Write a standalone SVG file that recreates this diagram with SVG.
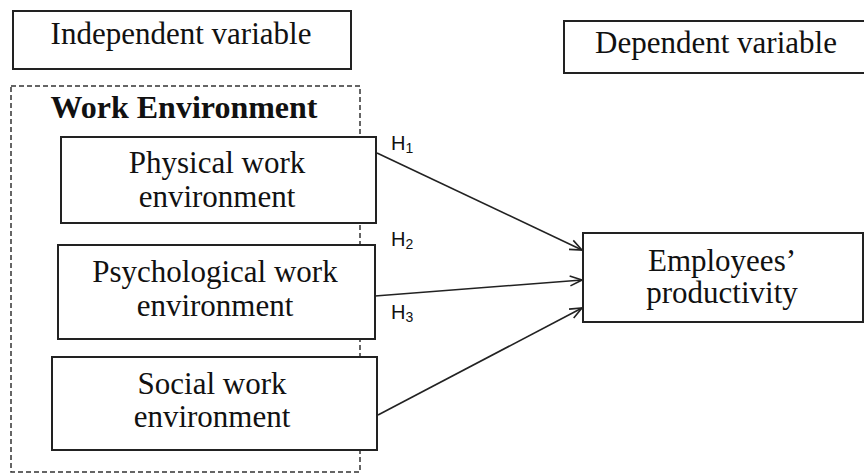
<svg xmlns="http://www.w3.org/2000/svg" width="864" height="473" viewBox="0 0 864 473">
<defs>
<style>
.box{fill:#fff;stroke:#222;stroke-width:2}
.t{font-family:"Liberation Serif",Tinos,"Times New Roman","DejaVu Serif","Noto Serif",serif;font-size:31px;fill:#111;text-anchor:middle}
.b{font-weight:bold;font-size:32px}
.h{font-family:"Liberation Sans",Arial,sans-serif;font-size:20px;fill:#111}
.sub{font-size:14px}
.c{stroke:#222;stroke-width:1.6;fill:none;marker-end:url(#arr)}
</style>
<marker id="arr" viewBox="0 0 14 12" refX="13" refY="6" markerWidth="14" markerHeight="12" markerUnits="userSpaceOnUse" orient="auto">
<path d="M1,1 L13,6 L1,11" fill="none" stroke="#222" stroke-width="1.6"/>
</marker>
</defs>
<rect width="864" height="473" fill="#fff"/>
<g id="independent-label">
<rect class="box" x="13" y="11" width="338" height="58"/>
<text class="t" x="181" y="44">Independent variable</text>
</g>
<g id="dependent-label">
<rect class="box" x="564" y="21" width="305" height="52"/>
<text class="t" x="716" y="53">Dependent variable</text>
</g>
<g id="work-environment">
<rect x="11" y="86" width="349" height="386" fill="none" stroke="#333" stroke-width="1.5" stroke-dasharray="5,3"/>
<text class="t b" x="184" y="118">Work Environment</text>
</g>
<g id="physical">
<rect class="box" x="61" y="137" width="315" height="86"/>
<text class="t" x="217" y="173">Physical work</text>
<text class="t" x="217" y="207">environment</text>
</g>
<g id="psychological">
<rect class="box" x="58" y="245" width="317" height="94"/>
<text class="t" x="215" y="282">Psychological work</text>
<text class="t" x="215" y="316">environment</text>
</g>
<g id="social">
<rect class="box" x="52" y="357" width="325" height="93"/>
<text class="t" x="212" y="394">Social work</text>
<text class="t" x="212" y="427">environment</text>
</g>
<g id="productivity">
<rect class="box" x="583" y="233" width="280" height="89"/>
<text class="t" x="722" y="271">Employees’</text>
<text class="t" x="722" y="303">productivity</text>
</g>
<g id="connectors">
<line class="c" x1="377" y1="153" x2="582" y2="250"/>
<line class="c" x1="375" y1="296" x2="582" y2="280"/>
<line class="c" x1="378" y1="415" x2="582" y2="308"/>
<text class="h" x="391" y="150">H<tspan class="sub" dy="3">1</tspan></text>
<text class="h" x="391" y="246">H<tspan class="sub" dy="3">2</tspan></text>
<text class="h" x="391" y="319">H<tspan class="sub" dy="3">3</tspan></text>
</g>
</svg>
